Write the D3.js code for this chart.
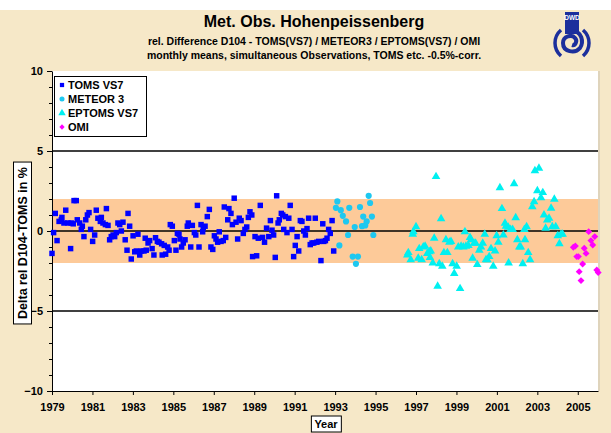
<!DOCTYPE html>
<html><head><meta charset="utf-8">
<script src="https://cdn.jsdelivr.net/npm/d3@7"></script>
<style>body{margin:0;background:#fff}svg{display:block;font-family:Arial,"Liberation Sans",sans-serif}</style>
</head><body><svg id="c" width="611" height="433"></svg>
<script>
const titleMain = "Met. Obs. Hohenpeissenberg";
const subtitle1 = "rel. Difference D104 - TOMS(VS7) / METEOR3 / EPTOMS(VS7) / OMI";
const subtitle2 = "monthly means, simultaneous Observations, TOMS etc. -0.5%-corr.";
const yAxisTitle = "Delta rel D104-TOMS in %";
const xAxisTitle = "Year";
const yTicks = [-10, -5, 0, 5, 10];
const yGridValues = [-5, 0, 5];
const xTickYears = [1979,1981,1983,1985,1987,1989,1991,1993,1995,1997,1999,2001,2003,2005];
const legendLabels = ["TOMS VS7", "METEOR 3", "EPTOMS VS7", "OMI"];
const bandRange = [-2, 2];

const tomsVS7 = [[1979.00,-1.4],[1979.08,-0.1],[1979.16,1.1],[1979.25,-0.6],[1979.35,0.6],[1979.46,0.7],[1979.49,0.85],[1979.59,0.5],[1979.68,1.3],[1979.79,0.5],[1979.92,-1.1],[1979.95,0.5],[1980.05,0.45],[1980.09,1.9],[1980.20,1.9],[1980.25,0.7],[1980.37,0.5],[1980.45,0.1],[1980.50,0.3],[1980.58,-0.35],[1980.67,0.7],[1980.75,1.0],[1980.83,1.15],[1980.91,0.1],[1981.01,-0.65],[1981.11,-0.25],[1981.19,1.3],[1981.27,0.8],[1981.39,0.6],[1981.44,0.85],[1981.52,0.5],[1981.64,0.4],[1981.69,1.4],[1981.77,0.35],[1981.85,-0.55],[1981.93,-0.35],[1982.02,-0.25],[1982.10,-0.35],[1982.18,-0.1],[1982.26,0.5],[1982.35,0.4],[1982.43,0.0],[1982.51,0.55],[1982.62,-0.55],[1982.71,-1.2],[1982.76,1.1],[1982.84,0.3],[1982.92,-1.75],[1983.01,-0.3],[1983.09,-1.3],[1983.17,-1.25],[1983.25,-0.2],[1983.34,-1.5],[1983.42,-1.25],[1983.55,-1.25],[1983.61,-0.45],[1983.66,-1.2],[1983.75,-0.75],[1983.83,-0.6],[1983.95,-1.1],[1984.04,-1.5],[1984.12,-0.42],[1984.21,-0.65],[1984.29,-0.7],[1984.42,-0.8],[1984.45,-1.5],[1984.55,-0.9],[1984.62,-1.45],[1984.72,-1.0],[1984.79,-1.2],[1984.85,0.4],[1984.95,0.3],[1985.05,-0.6],[1985.13,-1.2],[1985.20,-0.15],[1985.28,-0.2],[1985.33,-0.5],[1985.41,-1.0],[1985.49,-0.75],[1985.58,-0.55],[1985.69,0.3],[1985.74,0.5],[1985.86,-1.0],[1985.94,0.35],[1986.04,-0.1],[1986.11,-0.25],[1986.19,1.6],[1986.27,-1.0],[1986.37,0.4],[1986.45,-0.05],[1986.48,0.2],[1986.57,0.3],[1986.68,0.9],[1986.78,1.35],[1986.86,-1.0],[1986.95,-1.15],[1987.03,-0.3],[1987.11,-0.5],[1987.19,-0.7],[1987.27,-0.05],[1987.36,-0.65],[1987.47,-0.6],[1987.52,1.5],[1987.59,-0.4],[1987.69,0.7],[1987.75,1.4],[1987.85,1.1],[1987.92,0.4],[1988.01,2.05],[1988.10,0.55],[1988.18,-0.5],[1988.26,0.8],[1988.35,0.65],[1988.46,-0.15],[1988.54,0.1],[1988.63,0.25],[1988.71,0.85],[1988.79,1.2],[1988.88,1.0],[1988.92,-1.6],[1989.04,-0.35],[1989.12,-1.55],[1989.20,-0.45],[1989.30,1.6],[1989.41,-0.4],[1989.51,-0.7],[1989.61,0.18],[1989.72,-0.35],[1989.80,0.65],[1989.88,0.05],[1989.96,-0.25],[1990.04,-1.65],[1990.11,2.2],[1990.18,0.5],[1990.24,0.7],[1990.34,1.1],[1990.41,1.0],[1990.46,0.1],[1990.54,0.9],[1990.62,-0.1],[1990.71,0.8],[1990.78,1.6],[1990.87,0.1],[1990.95,-1.6],[1991.03,-0.9],[1991.12,-0.35],[1991.20,-1.25],[1991.28,0.65],[1991.36,0.6],[1991.45,0.0],[1991.53,-0.25],[1991.61,0.15],[1991.69,0.8],[1991.77,-0.85],[1991.86,-0.75],[1991.94,-0.75],[1992.02,0.8],[1992.10,-0.7],[1992.19,-0.65],[1992.30,-1.85],[1992.39,0.45],[1992.44,-0.65],[1992.52,-0.6],[1992.60,-0.45],[1992.68,0.1],[1992.76,-0.15],[1992.85,0.65],[1992.93,-1.25]];

const meteor3 = [[1993.04,1.45],[1993.11,1.85],[1993.21,-0.9],[1993.28,1.3],[1993.38,0.95],[1993.54,0.6],[1993.64,-0.25],[1993.70,1.45],[1993.87,-1.6],[1993.97,0.25],[1994.03,-2.05],[1994.13,-1.6],[1994.23,1.5],[1994.33,0.3],[1994.39,0.9],[1994.49,0.35],[1994.56,0.6],[1994.66,2.2],[1994.73,1.75],[1994.82,0.9],[1994.89,-0.25]];

const eptomsVS7 = [[1996.57,-1.5],[1996.62,-1.35],[1996.74,-1.8],[1996.84,-0.2],[1996.87,-0.05],[1997.00,0.27],[1997.11,-1.7],[1997.16,-1.1],[1997.28,-1.8],[1997.36,-1.0],[1997.45,-0.95],[1997.56,-1.4],[1997.66,-1.3],[1997.69,-1.65],[1997.73,-1.25],[1997.83,-2.0],[1997.90,-0.45],[1997.99,3.4],[1998.07,-3.45],[1998.15,-2.05],[1998.24,0.77],[1998.30,-2.2],[1998.38,-1.35],[1998.48,-0.55],[1998.55,-1.35],[1998.65,-0.7],[1998.73,-0.65],[1998.81,-2.05],[1998.89,-2.65],[1999.01,-2.2],[1999.09,-1.0],[1999.18,-3.6],[1999.23,-0.95],[1999.34,-1.0],[1999.42,-0.05],[1999.47,-0.95],[1999.59,-0.9],[1999.67,-0.4],[1999.72,-0.55],[1999.80,-1.7],[1999.87,-0.77],[1999.95,-0.77],[2000.03,-2.1],[2000.13,-1.2],[2000.21,-1.0],[2000.30,-0.77],[2000.40,-0.2],[2000.46,-1.8],[2000.53,-1.8],[2000.62,-1.6],[2000.71,-1.1],[2000.82,-2.2],[2000.91,-1.25],[2000.99,-0.3],[2001.07,-0.7],[2001.15,2.7],[2001.25,1.4],[2001.32,-0.25],[2001.40,0.48],[2001.45,0.3],[2001.56,0.23],[2001.58,-2.0],[2001.68,0.1],[2001.78,0.1],[2001.85,2.95],[2001.93,0.83],[2002.01,-0.55],[2002.11,-1.0],[2002.18,-1.0],[2002.28,-2.05],[2002.36,0.1],[2002.39,-0.55],[2002.47,0.27],[2002.55,-1.35],[2002.64,-1.8],[2002.75,1.52],[2002.84,1.83],[2002.88,3.77],[2003.00,2.52],[2003.08,3.92],[2003.18,2.08],[2003.27,2.4],[2003.33,1.0],[2003.41,0.17],[2003.49,0.69],[2003.58,0.8],[2003.68,1.42],[2003.74,0.27],[2003.84,1.98],[2003.91,0.27],[2004.01,-0.3],[2004.09,-0.8],[2004.17,-0.2],[2004.25,-0.2]];

const omi = [[2004.78,-1.02],[2004.88,-0.94],[2004.95,-1.6],[2005.03,-1.6],[2005.07,-2.54],[2005.16,-3.1],[2005.24,-2.06],[2005.32,-1.08],[2005.41,-1.4],[2005.54,-0.04],[2005.65,-0.6],[2005.74,-0.88],[2005.84,-0.35],[2005.94,-2.44],[2006.01,-2.6]];

const svg = d3.select("#c");
const W = 611, H = 433;
const plot = {left: 52, right: 598, top: 71, bottom: 391};

// background
svg.append("rect").attr("x",0).attr("y",0).attr("width",W).attr("height",H).attr("fill","#ffffff");
svg.append("rect").attr("x",0).attr("y",10).attr("width",W).attr("height",H-10).attr("fill","#f6e8c8");

const x = d3.scaleLinear().domain([1979, 2006]).range([plot.left, plot.right]);
const y = d3.scaleLinear().domain([-10, 10]).range([plot.bottom, plot.top]);

// plot area
svg.append("rect").attr("x",plot.left).attr("y",plot.top).attr("width",plot.right-plot.left).attr("height",plot.bottom-plot.top).attr("fill","#ffffff");
svg.append("line").attr("x1",plot.right+1).attr("x2",plot.right+1).attr("y1",plot.top).attr("y2",plot.bottom).attr("stroke","#c8c0b0").attr("stroke-width",1);

// band
svg.append("rect").attr("x",plot.left).attr("width",plot.right-plot.left)
  .attr("y",y(bandRange[1])).attr("height",y(bandRange[0])-y(bandRange[1])).attr("fill","#fdca99");

// gridlines
svg.selectAll("line.grid").data(yGridValues).join("line").attr("class","grid")
  .attr("x1",plot.left).attr("x2",plot.right).attr("y1",d=>y(d)).attr("y2",d=>y(d))
  .attr("stroke","#000").attr("stroke-width",1.5);

// axes
const yMinor = svg.append("g").attr("transform",`translate(${plot.left},0)`)
  .call(d3.axisLeft(y).tickValues(d3.range(-10,11,1)).tickSize(3).tickFormat(""));
yMinor.select(".domain").remove();
const yAx = svg.append("g").attr("transform",`translate(${plot.left},0)`)
  .call(d3.axisLeft(y).tickValues(yTicks).tickSize(5).tickPadding(4).tickSizeOuter(0));
const xAx = svg.append("g").attr("transform",`translate(0,${plot.bottom})`)
  .call(d3.axisBottom(x).tickValues(xTickYears).tickFormat(d3.format("d")).tickSize(4).tickPadding(8).tickSizeOuter(0));
[yAx, xAx, yMinor].forEach(g => {
  g.selectAll("line").attr("stroke","#000");
  g.selectAll(".domain").attr("stroke","#000");
  g.selectAll("text").attr("fill","#000").style("font-size","11px").style("font-weight","bold").style("font-family","Arial, 'Liberation Sans', sans-serif");
});

// series
const sym = (type, size) => d3.symbol().type(type).size(size)();
function drawSeries(data, path, color, rot) {
  svg.append("g").selectAll("path").data(data).join("path")
    .attr("d", path)
    .attr("transform", d => `translate(${x(d[0])},${y(d[1])})${rot ? " rotate(45)" : ""}`)
    .attr("fill", color);
}
drawSeries(tomsVS7, sym(d3.symbolSquare, 30), "#0000ff", false);
drawSeries(meteor3, sym(d3.symbolCircle, 30), "#1ec8f0", false);
drawSeries(eptomsVS7, sym(d3.symbolTriangle, 32), "#00f0f0", false);
drawSeries(omi, sym(d3.symbolSquare, 24), "#ff00ff", true);

// legend
const lg = svg.append("g");
lg.append("rect").attr("x",54.5).attr("y",76.5).attr("width",92).attr("height",60).attr("fill","#fff").attr("stroke","#000").attr("stroke-width",1);
const legendMarks = [
  {p: sym(d3.symbolSquare, 18), c: "#0000ff", r: false},
  {p: sym(d3.symbolCircle, 20), c: "#1ec8f0", r: false},
  {p: sym(d3.symbolTriangle, 24), c: "#00f0f0", r: false},
  {p: sym(d3.symbolSquare, 14), c: "#ff00ff", r: true}
];
legendLabels.forEach((lab, i) => {
  const cy = 85 + i * 14;
  lg.append("path").attr("d", legendMarks[i].p).attr("fill", legendMarks[i].c)
    .attr("transform", `translate(62,${cy})${legendMarks[i].r ? " rotate(45)" : ""}`);
  lg.append("text").attr("x", 68).attr("y", cy + 4).text(lab)
    .style("font-size","11px").style("font-weight","bold");
});

// titles
svg.append("text").attr("x",314).attr("y",27).attr("text-anchor","middle").text(titleMain)
  .style("font-size","16px").style("font-weight","bold");
svg.append("text").attr("x",314).attr("y",45).attr("text-anchor","middle").text(subtitle1)
  .style("font-size","10.5px").style("font-weight","bold");
svg.append("text").attr("x",314).attr("y",59).attr("text-anchor","middle").text(subtitle2)
  .style("font-size","10.5px").style("font-weight","bold");

// y axis title with box
const yt = svg.append("g").attr("transform","translate(22,243) rotate(-90)");
const ytText = yt.append("text").attr("text-anchor","middle").attr("y",4.5).text(yAxisTitle)
  .style("font-size","12.5px").style("font-weight","bold");
const yb = ytText.node().getBBox();
yt.insert("rect","text").attr("x",yb.x-5).attr("y",yb.y-2).attr("width",yb.width+10).attr("height",yb.height+4)
  .attr("fill","#fff").attr("stroke","#000").attr("stroke-width",1);

// x axis title with box
const xt = svg.append("g").attr("transform","translate(326,424)");
const xtText = xt.append("text").attr("text-anchor","middle").attr("y",4).text(xAxisTitle)
  .style("font-size","11px").style("font-weight","bold");
const xb = xtText.node().getBBox();
xt.insert("rect","text").attr("x",xb.x-3).attr("y",xb.y-2).attr("width",xb.width+6).attr("height",xb.height+4)
  .attr("fill","#fff").attr("stroke","#000").attr("stroke-width",1);

// DWD logo (simplified)
const logo = svg.append("g").attr("transform","translate(572,0)");
logo.append("rect").attr("x",-7).attr("y",12).attr("width",14).attr("height",22).attr("fill","#1c2f9c");
logo.append("text").attr("x",0).attr("y",19.5).attr("text-anchor","middle").text("DWD")
  .style("font-size","6.5px").style("font-weight","bold").attr("fill","#ffffff");
logo.append("path").attr("d","M0,31 C10,31 12,42 8,48 C3,54 -9,52 -9,43 C-9,36 0,34 3,38 C6,41 3,46 0,45")
  .attr("fill","none").attr("stroke","#1c2f9c").attr("stroke-width",4);
logo.append("path").attr("d","M-11,30 C-19,37 -19,49 -11,56").attr("fill","none").attr("stroke","#1c2f9c").attr("stroke-width",3.5);
logo.append("path").attr("d","M11,30 C19,37 19,49 11,56").attr("fill","none").attr("stroke","#1c2f9c").attr("stroke-width",3.5);
</script></body></html>
